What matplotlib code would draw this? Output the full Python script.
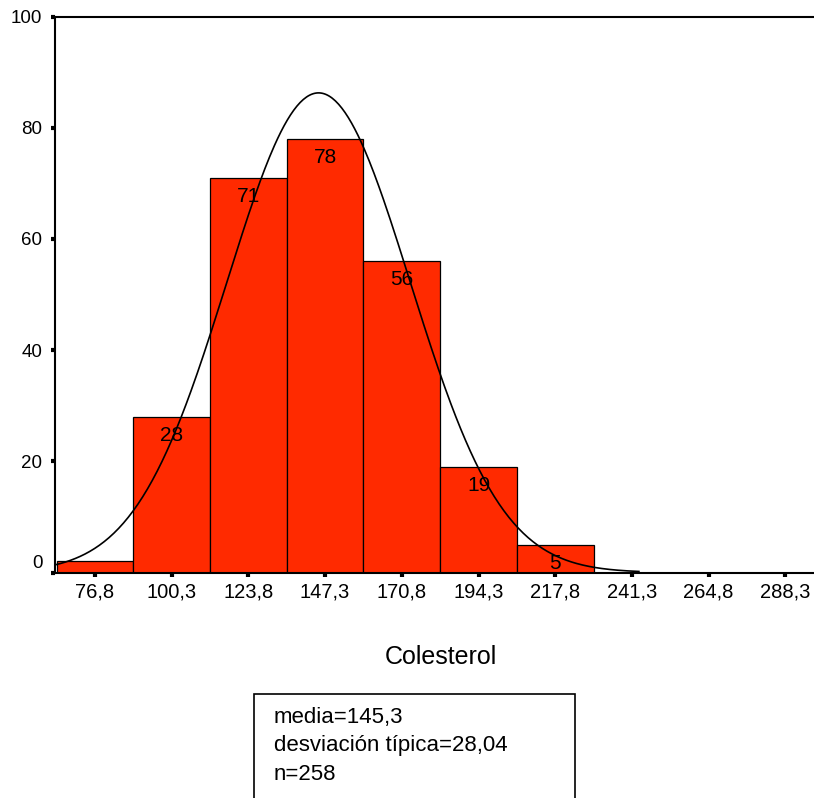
import numpy as np
import matplotlib
matplotlib.use("Agg")
from matplotlib import pyplot as plt
from matplotlib import patches

plt.rcParams["font.family"] = ["Liberation Sans", "DejaVu Sans"]

# Histogram of cholesterol: bin centres, counts and summary stats
bin_centers = [76.8, 100.3, 123.8, 147.3, 170.8, 194.3, 217.8]
counts = [2, 28, 71, 78, 56, 19, 5]
tick_values = [76.8, 100.3, 123.8, 147.3, 170.8, 194.3, 217.8, 241.3, 264.8, 288.3]
tick_labels = ["76,8", "100,3", "123,8", "147,3", "170,8", "194,3", "217,8", "241,3", "264,8", "288,3"]
y_ticks = [0, 20, 40, 60, 80, 100]
mean = 145.3
std = 28.04
n = 258
bin_width = 23.5

W, H = 814, 798
fig = plt.figure(figsize=(W / 100, H / 100), dpi=100)

x_lo = bin_centers[0] - bin_width / 2 - 0.5
x_hi = tick_values[-1] + bin_width / 2
px_per_unit = 3.264
ax_w = (x_hi - x_lo) * px_per_unit
ax = fig.add_axes([55 / W, (H - 572.5) / H, ax_w / W, 556 / H])

ax.bar(bin_centers, counts, width=bin_width, color="#ff2a00",
       edgecolor="black", linewidth=0.9, zorder=2)

# labels inside the top of each bar (first bar is too short for one)
for xc, c in zip(bin_centers, counts):
    if c < 3:
        continue
    ax.annotate(str(c), (xc, c), xytext=(0, -13.5), textcoords="offset points",
                ha="center", va="center", fontsize=15, color="black", zorder=4)

# fitted normal curve, scaled to counts, over mean +/- 3.5 sd
xs = np.linspace(mean - 3.5 * std, mean + 3.5 * std, 400)
ys = n * bin_width / (std * np.sqrt(2 * np.pi)) * np.exp(-0.5 * ((xs - mean) / std) ** 2)
ax.plot(xs, ys, color="black", linewidth=1.2, zorder=3)

ax.set_xlim(x_lo, x_hi)
ax.set_ylim(0, 100)
ax.set_xticks(tick_values)
ax.set_xticklabels(tick_labels, fontsize=14.5)
ax.set_yticks(y_ticks)
ax.set_yticklabels([str(v) for v in y_ticks], fontsize=13.5)
ax.tick_params(axis="x", direction="out", length=3, width=3, pad=4)
ax.tick_params(axis="y", direction="out", length=3, width=3, pad=6)
ax.get_yticklabels()[0].set_verticalalignment("bottom")

for side in ["left", "bottom", "top"]:
    ax.spines[side].set_linewidth(1.5)
ax.spines["right"].set_visible(False)

fig.text(441 / W, 1 - 657 / H, "Colesterol", ha="center", va="center", fontsize=18)

# stats box at the bottom
box = patches.Rectangle((254 / W, -0.05), (575 - 254) / W, 0.05 + 104 / H,
                        transform=fig.transFigure, fill=False,
                        edgecolor="black", linewidth=1.2)
fig.patches.append(box)
stats = ["media=145,3", "desviación típica=28,04", "n=" + str(n)]
for i, line in enumerate(stats):
    fig.text(274 / W, 1 - (718 + 28 * i) / H, line, ha="left", va="center", fontsize=16)

fig.savefig("out.png", dpi=100)
